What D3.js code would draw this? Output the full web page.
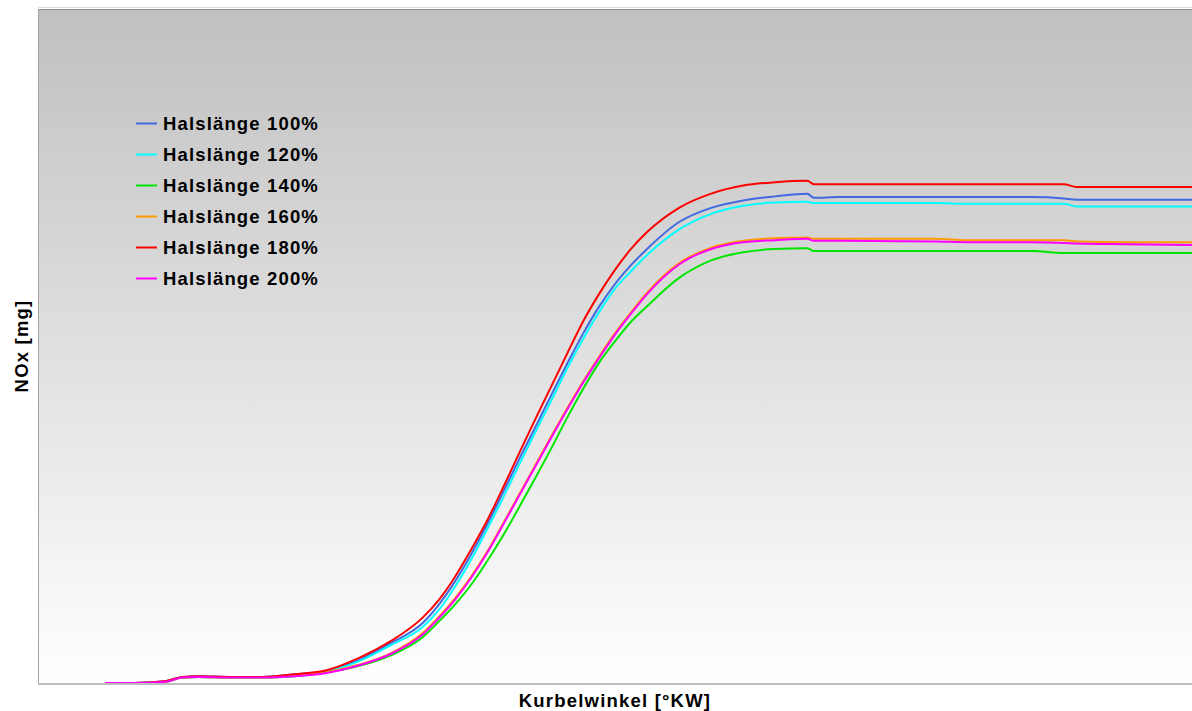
<!DOCTYPE html>
<html>
<head>
<meta charset="utf-8">
<script src="https://cdn.jsdelivr.net/npm/d3@7"></script>
<style>
    html, body { margin: 0; padding: 0; background: #ffffff; }
    svg { display: block; }
    text { font-family: "Liberation Sans", Arial, sans-serif; font-weight: bold; fill: #000; }
</style>
</head>
<body>
<svg width="1192" height="711"></svg>
<script>
// Crank angle grid [°KW], shared by all series
const angles = [-49.5, -45, -40, -37.5, -35, -30, -25, -20, -15, -10,
    -5, 0, 2.5, 5, 7.5, 10, 12.5, 15, 17.5, 20,
    22.5, 25, 27.5, 30, 32.5, 35, 40, 45, 50, 55,
    60, 61, 65, 80, 85, 95, 100, 102, 110, 120];

// Series names (legend order)
const seriesNames = ['Halslänge 100%', 'Halslänge 120%', 'Halslänge 140%',
    'Halslänge 160%', 'Halslänge 180%', 'Halslänge 200%'];
const seriesColors = ['#4169e1', '#00ffff', '#00e600', '#ff9900', '#ff0000', '#ff00ff'];

// NOx values (relative units, axis is unlabelled)
const nox100 = [0, 0, 0.3, 0.9, 1.0, 0.9, 0.9, 1.3, 1.8, 3.4,
    5.9, 8.9, 11.6, 15.0, 19.0, 23.4, 28.2, 33.1, 37.8, 42.6,
    47.3, 51.8, 55.8, 59.2, 62.0, 64.4, 68.4, 70.5, 71.6, 72.2,
    72.6, 72.0, 72.1, 72.1, 72.1, 72.1, 71.9, 71.7, 71.7, 71.7];
const nox120 = [0, 0, 0.2, 0.8, 0.9, 0.8, 0.8, 1.2, 1.7, 3.2,
    5.6, 8.3, 10.8, 14.2, 18.2, 22.7, 27.4, 32.3, 37.1, 41.8,
    46.6, 51.0, 55.0, 58.5, 61.1, 63.5, 67.3, 69.6, 70.8, 71.3,
    71.4, 71.2, 71.2, 71.2, 71.1, 71.1, 71.1, 70.7, 70.7, 70.7];
const nox140 = [0, 0, 0.2, 0.8, 0.9, 0.8, 0.8, 1.0, 1.6, 2.5,
    4.1, 6.8, 9.1, 11.6, 14.5, 18.0, 21.8, 26.0, 30.3, 34.7,
    39.3, 43.6, 47.5, 50.7, 53.6, 55.9, 60.1, 62.7, 63.9, 64.4,
    64.5, 64.1, 64.1, 64.1, 64.1, 64.1, 63.8, 63.8, 63.8, 63.8];
const nox160 = [0, 0, 0.2, 0.8, 0.9, 0.8, 0.8, 1.1, 1.6, 2.7,
    4.4, 7.4, 9.8, 12.5, 15.7, 19.4, 23.6, 27.9, 32.2, 36.5,
    40.7, 44.7, 48.4, 51.9, 55.0, 57.9, 62.3, 64.6, 65.6, 66.0,
    66.1, 65.9, 65.9, 65.9, 65.7, 65.7, 65.7, 65.5, 65.4, 65.4];
const nox180 = [0, 0, 0.3, 0.9, 1.0, 0.9, 0.9, 1.3, 1.9, 3.7,
    6.2, 9.7, 12.3, 15.7, 19.7, 24.0, 28.9, 34.0, 39.0, 43.9,
    48.8, 53.6, 57.7, 61.3, 64.4, 66.9, 70.5, 72.6, 73.8, 74.3,
    74.5, 74.0, 74.0, 74.0, 74.0, 74.0, 74.0, 73.6, 73.6, 73.6];
const nox200 = [0, 0, 0.2, 0.8, 0.9, 0.8, 0.8, 1.0, 1.5, 2.6,
    4.3, 7.2, 9.6, 12.3, 15.5, 19.2, 23.4, 27.7, 32.0, 36.3,
    40.5, 44.5, 48.2, 51.7, 54.8, 57.7, 62.1, 64.4, 65.4, 65.7,
    65.9, 65.6, 65.6, 65.5, 65.4, 65.4, 65.3, 65.2, 65.1, 65.0];

const seriesValues = [nox100, nox120, nox140, nox160, nox180, nox200];

// Plot area
const plot = { left: 38, top: 9, right: 1192, bottom: 683 };

const svg = d3.select('svg');

const x = d3.scaleLinear().domain([-60, 120]).range([plot.left, plot.right]);
const y = d3.scaleLinear().domain([0, 100]).range([plot.bottom, plot.top]);

// Background gradient, grey at the top fading to white
const defs = svg.append('defs');
const grad = defs.append('linearGradient')
    .attr('id', 'bg-grad')
    .attr('x1', 0).attr('y1', 0)
    .attr('x2', 0).attr('y2', 1);
grad.append('stop').attr('offset', '0%').attr('stop-color', '#c0c0c0');
grad.append('stop').attr('offset', '100%').attr('stop-color', '#ffffff');

defs.append('clipPath')
    .attr('id', 'plot-clip')
    .append('rect')
    .attr('x', plot.left)
    .attr('y', plot.top)
    .attr('width', plot.right - plot.left)
    .attr('height', plot.bottom - plot.top);

svg.append('rect')
    .attr('x', plot.left)
    .attr('y', plot.top)
    .attr('width', plot.right - plot.left)
    .attr('height', plot.bottom - plot.top)
    .attr('fill', 'url(#bg-grad)');

// Frame lines
svg.append('line')
    .attr('x1', plot.left).attr('x2', plot.right)
    .attr('y1', plot.top - 1.5).attr('y2', plot.top - 1.5)
    .attr('stroke', '#dcdcdc').attr('stroke-width', 1);
svg.append('line')
    .attr('x1', plot.left).attr('x2', plot.right)
    .attr('y1', plot.top + 0.5).attr('y2', plot.top + 0.5)
    .attr('stroke', '#8c8c8c').attr('stroke-width', 1);
svg.append('line')
    .attr('x1', plot.left + 0.5).attr('x2', plot.left + 0.5)
    .attr('y1', plot.top).attr('y2', plot.bottom + 1)
    .attr('stroke', '#a4a4a4').attr('stroke-width', 1);
svg.append('line')
    .attr('x1', plot.left).attr('x2', plot.right)
    .attr('y1', plot.bottom + 1).attr('y2', plot.bottom + 1)
    .attr('stroke', '#bdbdbd').attr('stroke-width', 2);

// Curves
const line = d3.line()
    .x(d => x(d.angle))
    .y(d => y(d.value))
    .curve(d3.curveMonotoneX);

const series = seriesNames.map((name, i) => ({
    name: name,
    color: seriesColors[i],
    points: angles.map((a, j) => ({ angle: a, value: seriesValues[i][j] }))
}));

svg.append('g')
    .attr('clip-path', 'url(#plot-clip)')
    .selectAll('path')
    .data(series)
    .join('path')
    .attr('d', d => line(d.points))
    .attr('fill', 'none')
    .attr('stroke', d => d.color)
    .attr('stroke-width', 2)
    .attr('stroke-linejoin', 'round');

// Legend
const legend = svg.append('g').attr('transform', 'translate(136, 123.5)');
const items = legend.selectAll('g')
    .data(series)
    .join('g')
    .attr('transform', (d, i) => `translate(0, ${i * 31})`);
items.append('line')
    .attr('x1', 0).attr('x2', 21)
    .attr('y1', 0).attr('y2', 0)
    .attr('stroke', d => d.color)
    .attr('stroke-width', 2);
items.append('text')
    .attr('x', 27)
    .attr('y', 6.7)
    .style('font-size', '18.5px')
    .style('letter-spacing', '1.15px')
    .text(d => d.name);

// Axis titles
svg.append('text')
    .attr('x', (plot.left + plot.right) / 2)
    .attr('y', 707)
    .attr('text-anchor', 'middle')
    .style('font-size', '18.5px')
    .style('letter-spacing', '1.2px')
    .text('Kurbelwinkel [°KW]');

svg.append('text')
    .attr('transform', `translate(27.5, ${(plot.top + plot.bottom) / 2}) rotate(-90)`)
    .attr('text-anchor', 'middle')
    .style('font-size', '18.5px')
    .style('letter-spacing', '1.2px')
    .text('NOx [mg]');
</script>
</body>
</html>
